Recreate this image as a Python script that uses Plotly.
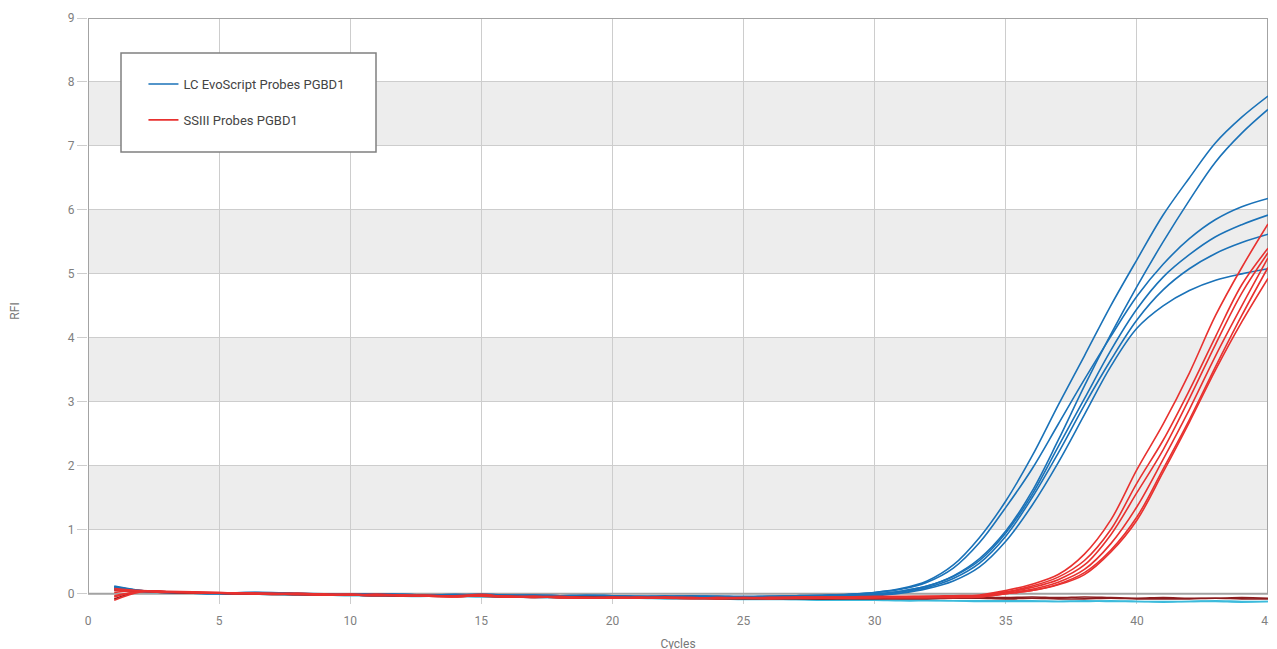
import plotly.graph_objects as go

cycles = list(range(1, 46))
x_ticks = [0, 5, 10, 15, 20, 25, 30, 35, 40, 45]
y_ticks = [0, 1, 2, 3, 4, 5, 6, 7, 8, 9]

legend_blue = "LC EvoScript Probes PGBD1"
legend_red = "SSIII Probes PGBD1"

# LC EvoScript Probes PGBD1 (blue)
evo_1 = [0.12, 0.05, 0.02, 0.01, 0.01, 0.02, 0.01, 0.0, -0.01, -0.01, -0.01, -0.02, -0.02, -0.02, -0.01, -0.02,
         -0.02, -0.03, -0.03, -0.03, -0.04, -0.04, -0.03, -0.04, -0.04, -0.04, -0.03, -0.03,
         -0.01, 0.02, 0.08, 0.2, 0.45, 0.88, 1.45, 2.15, 2.95, 3.72, 4.5, 5.22, 5.92, 6.5, 7.05, 7.45, 7.78]
evo_2 = [0.09, 0.04, 0.02, 0.01, 0.0, 0.01, 0.01, 0.0, -0.01, 0.0, -0.01, -0.01, -0.02, -0.01, -0.02, -0.03,
         -0.02, -0.03, -0.04, -0.03, -0.04, -0.05, -0.04, -0.04, -0.05, -0.04, -0.04, -0.03,
         -0.02, 0.0, 0.04, 0.12, 0.28, 0.55, 0.98, 1.6, 2.4, 3.25, 4.05, 4.8, 5.5, 6.15, 6.75, 7.2, 7.57]
evo_3 = [0.11, 0.05, 0.03, 0.02, 0.01, 0.02, 0.02, 0.01, 0.0, -0.01, 0.0, -0.01, -0.02, -0.02, -0.01, -0.02,
         -0.03, -0.03, -0.02, -0.03, -0.04, -0.03, -0.04, -0.04, -0.05, -0.04, -0.03, -0.02,
         -0.01, 0.02, 0.07, 0.18, 0.4, 0.8, 1.35, 1.95, 2.65, 3.35, 4.02, 4.65, 5.15, 5.55, 5.85, 6.05, 6.18]
evo_4 = [0.08, 0.04, 0.02, 0.01, 0.0, 0.0, 0.01, 0.0, -0.01, -0.02, -0.01, -0.02, -0.03, -0.02, -0.02, -0.03,
         -0.03, -0.04, -0.04, -0.04, -0.05, -0.05, -0.04, -0.05, -0.05, -0.05, -0.04, -0.04,
         -0.03, -0.01, 0.04, 0.12, 0.27, 0.52, 0.95, 1.55, 2.3, 3.05, 3.8, 4.45, 4.95, 5.3, 5.58, 5.77, 5.92]
evo_5 = [0.1, 0.05, 0.03, 0.02, 0.01, 0.01, 0.0, -0.01, -0.01, -0.02, -0.02, -0.02, -0.03, -0.03, -0.02, -0.03,
         -0.04, -0.04, -0.04, -0.05, -0.05, -0.06, -0.05, -0.05, -0.06, -0.06, -0.05, -0.05,
         -0.04, -0.02, 0.03, 0.1, 0.24, 0.48, 0.9, 1.5, 2.2, 2.95, 3.65, 4.28, 4.75, 5.08, 5.32, 5.49, 5.62]
evo_6 = [0.07, 0.04, 0.02, 0.01, 0.01, 0.0, 0.0, -0.01, -0.02, -0.02, -0.03, -0.03, -0.03, -0.04, -0.03, -0.04,
         -0.04, -0.05, -0.05, -0.05, -0.06, -0.06, -0.06, -0.06, -0.07, -0.06, -0.06, -0.06,
         -0.05, -0.03, 0.01, 0.08, 0.2, 0.42, 0.82, 1.38, 2.05, 2.8, 3.55, 4.15, 4.5, 4.74, 4.9, 5.0, 5.08]

# SSIII Probes PGBD1 (red)
ss_1 = [-0.1, 0.03, 0.03, 0.02, 0.01, 0.0, 0.0, 0.01, -0.01, -0.02, -0.01, -0.02, -0.03, -0.05, -0.02, -0.04,
        -0.05, -0.04, -0.06, -0.05, -0.06, -0.05, -0.06, -0.07, -0.06, -0.06, -0.05, -0.05, -0.05, -0.04,
        -0.04, -0.04, -0.03, -0.02,
        0.05, 0.15, 0.3, 0.62, 1.15, 1.94, 2.65, 3.45, 4.35, 5.1, 5.78]
ss_2 = [-0.05, 0.04, 0.03, 0.02, 0.01, 0.01, -0.01, 0.0, -0.01, -0.01, -0.02, -0.03, -0.02, -0.04, -0.01, -0.05,
        -0.04, -0.05, -0.07, -0.06, -0.05, -0.06, -0.07, -0.06, -0.07, -0.06, -0.06, -0.05, -0.06, -0.05,
        -0.05, -0.04, -0.04, -0.03,
        0.03, 0.12, 0.26, 0.52, 1.0, 1.73, 2.4, 3.18, 4.02, 4.83, 5.4]
ss_3 = [0.02, 0.05, 0.03, 0.02, 0.02, 0.01, 0.0, 0.0, -0.02, -0.01, -0.02, -0.02, -0.03, -0.04, -0.03, -0.04,
        -0.06, -0.05, -0.06, -0.06, -0.07, -0.06, -0.06, -0.07, -0.07, -0.06, -0.06, -0.06, -0.05, -0.05,
        -0.05, -0.05, -0.04, -0.03,
        0.02, 0.1, 0.22, 0.45, 0.92, 1.58, 2.25, 3.05, 3.9, 4.7, 5.33]
ss_4 = [0.06, 0.04, 0.03, 0.02, 0.01, 0.0, 0.0, -0.01, -0.01, -0.02, -0.01, -0.03, -0.04, -0.03, -0.02, -0.05,
        -0.05, -0.06, -0.06, -0.07, -0.06, -0.07, -0.07, -0.06, -0.06, -0.07, -0.07, -0.06, -0.06, -0.06,
        -0.05, -0.05, -0.05, -0.04,
        0.01, 0.07, 0.18, 0.38, 0.78, 1.36, 2.1, 2.88, 3.72, 4.5, 5.25]
ss_5 = [-0.03, 0.03, 0.02, 0.02, 0.01, 0.01, 0.0, -0.01, -0.02, -0.02, -0.03, -0.02, -0.04, -0.05, -0.03, -0.04,
        -0.05, -0.06, -0.07, -0.06, -0.07, -0.07, -0.08, -0.07, -0.07, -0.07, -0.06, -0.07, -0.06, -0.06,
        -0.06, -0.06, -0.05, -0.05,
        0.0, 0.05, 0.15, 0.33, 0.68, 1.2, 1.95, 2.72, 3.55, 4.35, 5.1]
ss_6 = [0.08, 0.05, 0.04, 0.03, 0.02, 0.01, 0.01, 0.0, -0.01, -0.01, -0.02, -0.03, -0.03, -0.04, -0.04, -0.05,
        -0.04, -0.06, -0.06, -0.07, -0.07, -0.06, -0.07, -0.08, -0.07, -0.08, -0.07, -0.07, -0.07, -0.06,
        -0.06, -0.06, -0.06, -0.05,
        0.0, 0.05, 0.14, 0.3, 0.65, 1.15, 1.9, 2.68, 3.5, 4.25, 4.93]

# No-template controls (flat)
ntc_cyan_1 = [0.1, 0.04, 0.02, 0.01, 0.0, 0.0, -0.01, -0.01, -0.02, -0.02,
              -0.03, -0.03, -0.03, -0.04, -0.04, -0.05, -0.05, -0.05, -0.06, -0.06,
              -0.07, -0.07, -0.07, -0.08, -0.08, -0.08, -0.09, -0.09, -0.09, -0.1,
              -0.1, -0.1, -0.11, -0.11, -0.11, -0.11, -0.12, -0.12, -0.11, -0.12,
              -0.12, -0.12, -0.11, -0.12, -0.12]
ntc_cyan_2 = [0.08, 0.03, 0.02, 0.01, 0.01, 0.0, -0.01, -0.02, -0.02, -0.03,
              -0.03, -0.04, -0.04, -0.04, -0.05, -0.05, -0.06, -0.06, -0.06, -0.07,
              -0.07, -0.08, -0.08, -0.08, -0.09, -0.09, -0.09, -0.1, -0.1, -0.1,
              -0.11, -0.11, -0.11, -0.12, -0.12, -0.12, -0.12, -0.11, -0.12, -0.12,
              -0.13, -0.12, -0.12, -0.13, -0.12]
ntc_dark_1 = [-0.08, 0.04, 0.03, 0.02, 0.01, 0.0, 0.0, -0.01, -0.01, -0.02,
              -0.02, -0.03, -0.03, -0.04, -0.03, -0.04, -0.05, -0.05, -0.05, -0.06,
              -0.06, -0.06, -0.07, -0.07, -0.07, -0.07, -0.07, -0.08, -0.07, -0.07,
              -0.07, -0.06, -0.07, -0.06, -0.06, -0.05, -0.06, -0.05, -0.06, -0.07,
              -0.06, -0.07, -0.07, -0.06, -0.07]
ntc_dark_2 = [0.05, 0.04, 0.02, 0.01, 0.01, 0.0, -0.01, -0.01, -0.02, -0.02,
              -0.03, -0.03, -0.04, -0.04, -0.04, -0.05, -0.05, -0.06, -0.06, -0.06,
              -0.07, -0.07, -0.07, -0.08, -0.08, -0.08, -0.08, -0.08, -0.08, -0.08,
              -0.08, -0.08, -0.07, -0.07, -0.08, -0.07, -0.08, -0.08, -0.07, -0.08,
              -0.08, -0.08, -0.07, -0.08, -0.08]

BLUE = "#1a72b8"
RED = "#e8312f"
CYAN = "#3cbbdc"
DARK = "#8c1d1f"
LW = 1.6

fig = go.Figure()

for ys in [ntc_cyan_1, ntc_cyan_2]:
    fig.add_trace(go.Scatter(x=cycles, y=ys, mode="lines", line=dict(color=CYAN, width=LW, shape="spline"),
                             showlegend=False, hoverinfo="skip"))

for i, ys in enumerate([evo_1, evo_2, evo_3, evo_4, evo_5, evo_6]):
    fig.add_trace(go.Scatter(x=cycles, y=ys, mode="lines", name=legend_blue, legendgroup="blue",
                             line=dict(color=BLUE, width=LW, shape="spline"), showlegend=(i == 0)))

for ys in [ntc_dark_1, ntc_dark_2]:
    fig.add_trace(go.Scatter(x=cycles, y=ys, mode="lines", line=dict(color=DARK, width=LW, shape="spline"),
                             showlegend=False, hoverinfo="skip"))

for i, ys in enumerate([ss_1, ss_2, ss_3, ss_4, ss_5, ss_6]):
    fig.add_trace(go.Scatter(x=cycles, y=ys, mode="lines", name=legend_red, legendgroup="red",
                             line=dict(color=RED, width=LW, shape="spline"), showlegend=(i == 0)))

shapes = []
for lo in [1, 3, 5, 7]:
    shapes.append(dict(type="rect", xref="x", yref="y", x0=0, x1=45, y0=lo, y1=lo + 1,
                       fillcolor="#ededed", line=dict(width=0), layer="below"))
shapes.append(dict(type="rect", xref="x", yref="y", x0=0, x1=45, y0=0, y1=9,
                   fillcolor="rgba(0,0,0,0)", line=dict(color="#a3a3a3", width=2), layer="between"))
shapes.append(dict(type="rect", xref="paper", yref="paper", x0=0.02797, x1=0.24407, y0=0.7713, y1=0.9403,
                   fillcolor="white", line=dict(color="#808080", width=1.5), layer="above"))

# The page body adds an 8 px offset, so the figure is sized to end at the window's
# right edge and margins are shifted to keep the plot where the reference has it.
fig.update_layout(
    width=1269, height=649,
    margin=dict(l=80, r=9, t=10, b=53),
    plot_bgcolor="white", paper_bgcolor="white",
    font=dict(family="Roboto", size=12, color="#7a7a7a"),
    shapes=shapes,
    showlegend=True,
    legend=dict(x=0.047, y=0.913, xanchor="left", yanchor="top", bgcolor="rgba(0,0,0,0)",
                borderwidth=0, font=dict(size=13, color="#444444"), traceorder="grouped",
                tracegroupgap=16),
    xaxis=dict(range=[0, 45], tickvals=x_ticks, showgrid=True, gridcolor="#cdcdcd", gridwidth=1,
               zeroline=False, showline=False, ticks="", tickfont=dict(size=12, color="#808080"),
               ticklabelstandoff=8, ticklabeloverflow="allow",
               title=dict(text="Cycles", font=dict(size=12, color="#777777"), standoff=12),
               automargin=False),
    yaxis=dict(range=[-0.16, 9], tickvals=y_ticks, showgrid=True, gridcolor="#cdcdcd", gridwidth=1,
               zeroline=False, showline=False, ticks="outside", ticklen=10, tickcolor="#cdcdcd",
               tickfont=dict(size=12, color="#808080"),
               title=dict(text="RFI", font=dict(size=12, color="#777777"), standoff=45),
               automargin=False),
)

fig.write_html("out.html")
